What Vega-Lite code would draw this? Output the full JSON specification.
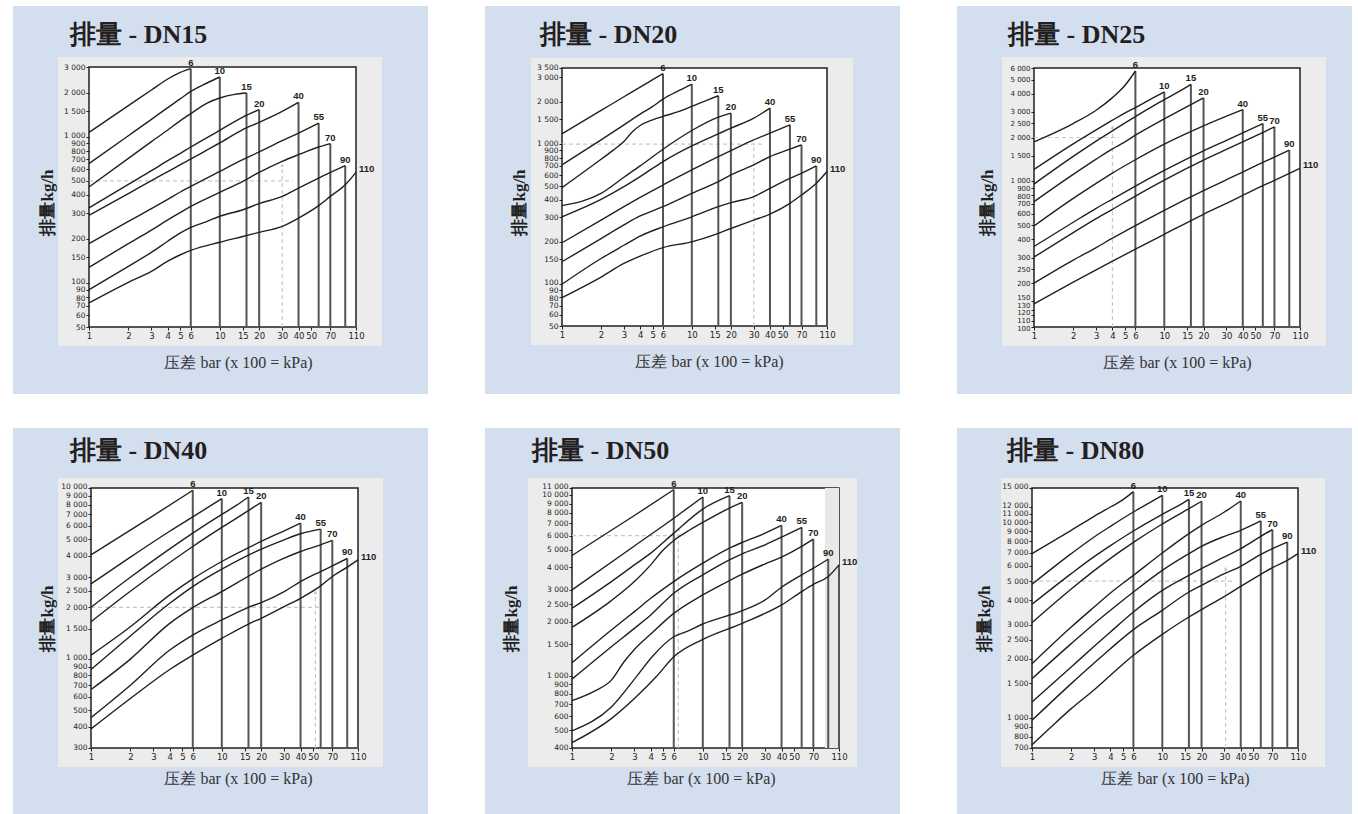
{
"$schema":"https://vega.github.io/schema/vega-lite/v6.json",
"background":"#ffffff",
"padding":{"left":13,"top":6,"right":0,"bottom":0},
"columns":3,
"spacing":{"row":34,"column":57},
"config":{
 "view":{"stroke":null},
 "title":{"font":"Liberation Serif","fontSize":26,"fontWeight":"bold","color":"#231f20"},
 "axis":{"zindex":1,"domain":false,"grid":false,"tickSize":3,"tickColor":"#231f20","tickWidth":1,"labelFont":"DejaVu Sans","labelFontSize":8,"labelColor":"#231f20","labelPadding":1,"labelOverlap":false,"labelFlush":false,"labelBound":false,"titleAlign":"center","titleBaseline":"middle"}
},
"datasets":{
"g":[
{"p":"DN15","x":1,"x2":36,"y":500,"y2":500},{"p":"DN15","x":30,"x2":30,"y":50,"y2":640},
{"p":"DN20","x":1,"x2":35,"y":1000,"y2":1000},{"p":"DN20","x":30,"x2":30,"y":50,"y2":1000},
{"p":"DN25","x":1,"x2":4.5,"y":2000,"y2":2000},{"p":"DN25","x":4,"x2":4,"y":100,"y2":2360},
{"p":"DN40","x":1,"x2":58,"y":2000,"y2":2000},{"p":"DN40","x":52,"x2":52,"y":300,"y2":2450},
{"p":"DN50","x":1,"x2":7.3,"y":6000,"y2":6000},{"p":"DN50","x":6.5,"x2":6.5,"y":400,"y2":6500},
{"p":"DN80","x":1,"x2":35,"y":5000,"y2":5000},{"p":"DN80","x":30.6,"x2":30.6,"y":700,"y2":5800}
],
"c":[
{"p":"DN15","s":"6","x":1,"y":1072},{"p":"DN15","s":"6","x":2,"y":1632},{"p":"DN15","s":"6","x":3,"y":2088},{"p":"DN15","s":"6","x":4,"y":2483},{"p":"DN15","s":"6","x":5,"y":2758},{"p":"DN15","s":"6","x":6,"y":2922},
{"p":"DN15","s":"10","x":1,"y":655},{"p":"DN15","s":"10","x":2,"y":1017},{"p":"DN15","s":"10","x":3,"y":1316},{"p":"DN15","s":"10","x":4,"y":1581},{"p":"DN15","s":"10","x":5,"y":1822},{"p":"DN15","s":"10","x":6,"y":2045},{"p":"DN15","s":"10","x":8,"y":2332},{"p":"DN15","s":"10","x":10,"y":2563},
{"p":"DN15","s":"15","x":1,"y":453},{"p":"DN15","s":"15","x":2,"y":712},{"p":"DN15","s":"15","x":3,"y":926},{"p":"DN15","s":"15","x":4,"y":1112},{"p":"DN15","s":"15","x":5,"y":1289},{"p":"DN15","s":"15","x":6,"y":1439},{"p":"DN15","s":"15","x":8,"y":1700},{"p":"DN15","s":"15","x":10,"y":1841},{"p":"DN15","s":"15","x":13,"y":1950},{"p":"DN15","s":"15","x":16,"y":1992},
{"p":"DN15","s":"20","x":1,"y":326},{"p":"DN15","s":"20","x":2,"y":473},{"p":"DN15","s":"20","x":3,"y":586},{"p":"DN15","s":"20","x":4,"y":686},{"p":"DN15","s":"20","x":5,"y":770},{"p":"DN15","s":"20","x":6,"y":851},{"p":"DN15","s":"20","x":10,"y":1107},{"p":"DN15","s":"20","x":15,"y":1365},{"p":"DN15","s":"20","x":20,"y":1532},
{"p":"DN15","s":"40","x":1,"y":290},{"p":"DN15","s":"40","x":2,"y":408},{"p":"DN15","s":"40","x":3,"y":501},{"p":"DN15","s":"40","x":4,"y":577},{"p":"DN15","s":"40","x":5,"y":644},{"p":"DN15","s":"40","x":6,"y":705},{"p":"DN15","s":"40","x":10,"y":907},{"p":"DN15","s":"40","x":15,"y":1118},{"p":"DN15","s":"40","x":20,"y":1255},{"p":"DN15","s":"40","x":30,"y":1493},{"p":"DN15","s":"40","x":40,"y":1720},
{"p":"DN15","s":"55","x":1,"y":186},{"p":"DN15","s":"55","x":2,"y":264},{"p":"DN15","s":"55","x":3,"y":322},{"p":"DN15","s":"55","x":4,"y":373},{"p":"DN15","s":"55","x":5,"y":419},{"p":"DN15","s":"55","x":6,"y":458},{"p":"DN15","s":"55","x":10,"y":580},{"p":"DN15","s":"55","x":15,"y":697},{"p":"DN15","s":"55","x":20,"y":787},{"p":"DN15","s":"55","x":30,"y":940},{"p":"DN15","s":"55","x":40,"y":1061},{"p":"DN15","s":"55","x":57,"y":1242},
{"p":"DN15","s":"70","x":1,"y":128},{"p":"DN15","s":"70","x":2,"y":186},{"p":"DN15","s":"70","x":3,"y":230},{"p":"DN15","s":"70","x":4,"y":270},{"p":"DN15","s":"70","x":5,"y":304},{"p":"DN15","s":"70","x":6,"y":334},{"p":"DN15","s":"70","x":10,"y":417},{"p":"DN15","s":"70","x":15,"y":496},{"p":"DN15","s":"70","x":20,"y":571},{"p":"DN15","s":"70","x":30,"y":679},{"p":"DN15","s":"70","x":40,"y":754},{"p":"DN15","s":"70","x":57,"y":851},{"p":"DN15","s":"70","x":70,"y":897},
{"p":"DN15","s":"90","x":1,"y":90},{"p":"DN15","s":"90","x":2,"y":130},{"p":"DN15","s":"90","x":3,"y":162},{"p":"DN15","s":"90","x":4,"y":193},{"p":"DN15","s":"90","x":5,"y":220},{"p":"DN15","s":"90","x":6,"y":240},{"p":"DN15","s":"90","x":8,"y":264},{"p":"DN15","s":"90","x":10,"y":286},{"p":"DN15","s":"90","x":15,"y":317},{"p":"DN15","s":"90","x":20,"y":349},{"p":"DN15","s":"90","x":30,"y":391},{"p":"DN15","s":"90","x":40,"y":446},{"p":"DN15","s":"90","x":57,"y":522},{"p":"DN15","s":"90","x":91,"y":634},
{"p":"DN15","s":"110","x":1,"y":73},{"p":"DN15","s":"110","x":2,"y":101},{"p":"DN15","s":"110","x":3,"y":120},{"p":"DN15","s":"110","x":4,"y":141},{"p":"DN15","s":"110","x":5,"y":156},{"p":"DN15","s":"110","x":6,"y":167},{"p":"DN15","s":"110","x":10,"y":190},{"p":"DN15","s":"110","x":15,"y":208},{"p":"DN15","s":"110","x":20,"y":222},{"p":"DN15","s":"110","x":30,"y":244},{"p":"DN15","s":"110","x":40,"y":278},{"p":"DN15","s":"110","x":57,"y":338},{"p":"DN15","s":"110","x":70,"y":391},{"p":"DN15","s":"110","x":91,"y":470},{"p":"DN15","s":"110","x":110,"y":571},

{"p":"DN20","s":"6","x":1,"y":1184},{"p":"DN20","s":"6","x":2,"y":1740},{"p":"DN20","s":"6","x":3,"y":2181},{"p":"DN20","s":"6","x":4,"y":2558},{"p":"DN20","s":"6","x":5,"y":2886},{"p":"DN20","s":"6","x":6,"y":3187},
{"p":"DN20","s":"10","x":1,"y":710},{"p":"DN20","s":"10","x":2,"y":1072},{"p":"DN20","s":"10","x":3,"y":1373},{"p":"DN20","s":"10","x":4,"y":1638},{"p":"DN20","s":"10","x":5,"y":1859},{"p":"DN20","s":"10","x":6,"y":2098},{"p":"DN20","s":"10","x":8,"y":2421},{"p":"DN20","s":"10","x":10,"y":2688},
{"p":"DN20","s":"15","x":1,"y":488},{"p":"DN20","s":"15","x":2,"y":779},{"p":"DN20","s":"15","x":2.5,"y":909},{"p":"DN20","s":"15","x":3,"y":1043},{"p":"DN20","s":"15","x":3.5,"y":1230},{"p":"DN20","s":"15","x":4,"y":1358},{"p":"DN20","s":"15","x":5,"y":1491},{"p":"DN20","s":"15","x":6,"y":1576},{"p":"DN20","s":"15","x":8,"y":1712},{"p":"DN20","s":"15","x":10,"y":1859},{"p":"DN20","s":"15","x":13,"y":2053},{"p":"DN20","s":"15","x":16,"y":2217},
{"p":"DN20","s":"20","x":1,"y":363},{"p":"DN20","s":"20","x":2,"y":444},{"p":"DN20","s":"20","x":3,"y":579},{"p":"DN20","s":"20","x":4,"y":698},{"p":"DN20","s":"20","x":6,"y":919},{"p":"DN20","s":"20","x":10,"y":1251},{"p":"DN20","s":"20","x":16,"y":1559},{"p":"DN20","s":"20","x":20,"y":1665},
{"p":"DN20","s":"40","x":1,"y":302},{"p":"DN20","s":"40","x":2,"y":402},{"p":"DN20","s":"40","x":3,"y":496},{"p":"DN20","s":"40","x":4,"y":585},{"p":"DN20","s":"40","x":6,"y":750},{"p":"DN20","s":"40","x":10,"y":971},{"p":"DN20","s":"40","x":16,"y":1184},{"p":"DN20","s":"40","x":20,"y":1300},{"p":"DN20","s":"40","x":30,"y":1533},{"p":"DN20","s":"40","x":40,"y":1808},
{"p":"DN20","s":"55","x":1,"y":197},{"p":"DN20","s":"55","x":2,"y":286},{"p":"DN20","s":"55","x":3,"y":357},{"p":"DN20","s":"55","x":4,"y":416},{"p":"DN20","s":"55","x":6,"y":510},{"p":"DN20","s":"55","x":10,"y":653},{"p":"DN20","s":"55","x":16,"y":814},{"p":"DN20","s":"55","x":20,"y":899},{"p":"DN20","s":"55","x":30,"y":1072},{"p":"DN20","s":"55","x":40,"y":1197},{"p":"DN20","s":"55","x":57,"y":1373},
{"p":"DN20","s":"70","x":1,"y":144},{"p":"DN20","s":"70","x":2,"y":211},{"p":"DN20","s":"70","x":3,"y":264},{"p":"DN20","s":"70","x":4,"y":306},{"p":"DN20","s":"70","x":6,"y":357},{"p":"DN20","s":"70","x":10,"y":444},{"p":"DN20","s":"70","x":16,"y":539},{"p":"DN20","s":"70","x":20,"y":602},{"p":"DN20","s":"70","x":30,"y":710},{"p":"DN20","s":"70","x":40,"y":814},{"p":"DN20","s":"70","x":57,"y":919},{"p":"DN20","s":"70","x":70,"y":987},
{"p":"DN20","s":"90","x":1,"y":99.5},{"p":"DN20","s":"90","x":2,"y":152},{"p":"DN20","s":"90","x":3,"y":189},{"p":"DN20","s":"90","x":4,"y":220},{"p":"DN20","s":"90","x":6,"y":256},{"p":"DN20","s":"90","x":10,"y":302},{"p":"DN20","s":"90","x":16,"y":357},{"p":"DN20","s":"90","x":20,"y":381},{"p":"DN20","s":"90","x":30,"y":421},{"p":"DN20","s":"90","x":40,"y":483},{"p":"DN20","s":"90","x":57,"y":569},{"p":"DN20","s":"90","x":70,"y":618},{"p":"DN20","s":"90","x":91,"y":698},
{"p":"DN20","s":"110","x":1,"y":79.8},{"p":"DN20","s":"110","x":2,"y":112},{"p":"DN20","s":"110","x":3,"y":140},{"p":"DN20","s":"110","x":4,"y":158},{"p":"DN20","s":"110","x":6,"y":182},{"p":"DN20","s":"110","x":10,"y":200},{"p":"DN20","s":"110","x":16,"y":230},{"p":"DN20","s":"110","x":20,"y":249},{"p":"DN20","s":"110","x":30,"y":286},{"p":"DN20","s":"110","x":40,"y":316},{"p":"DN20","s":"110","x":57,"y":377},{"p":"DN20","s":"110","x":70,"y":432},{"p":"DN20","s":"110","x":91,"y":524},{"p":"DN20","s":"110","x":110,"y":636},

{"p":"DN25","s":"6","x":1,"y":1868},{"p":"DN25","s":"6","x":2,"y":2495},{"p":"DN25","s":"6","x":3,"y":3078},{"p":"DN25","s":"6","x":4,"y":3758},{"p":"DN25","s":"6","x":5,"y":4565},{"p":"DN25","s":"6","x":6,"y":5723},
{"p":"DN25","s":"10","x":1,"y":1208},{"p":"DN25","s":"10","x":2,"y":1810},{"p":"DN25","s":"10","x":3,"y":2257},{"p":"DN25","s":"10","x":4,"y":2629},{"p":"DN25","s":"10","x":5,"y":2951},{"p":"DN25","s":"10","x":6,"y":3211},{"p":"DN25","s":"10","x":8,"y":3700},{"p":"DN25","s":"10","x":10,"y":4110},
{"p":"DN25","s":"15","x":1,"y":958},{"p":"DN25","s":"15","x":2,"y":1483},{"p":"DN25","s":"15","x":3,"y":1888},{"p":"DN25","s":"15","x":4,"y":2222},{"p":"DN25","s":"15","x":5,"y":2520},{"p":"DN25","s":"15","x":6,"y":2786},{"p":"DN25","s":"15","x":8,"y":3245},{"p":"DN25","s":"15","x":10,"y":3641},{"p":"DN25","s":"15","x":13,"y":4143},{"p":"DN25","s":"15","x":16,"y":4638},
{"p":"DN25","s":"20","x":1,"y":725},{"p":"DN25","s":"20","x":2,"y":1116},{"p":"DN25","s":"20","x":3,"y":1421},{"p":"DN25","s":"20","x":4,"y":1673},{"p":"DN25","s":"20","x":5,"y":1868},{"p":"DN25","s":"20","x":6,"y":2075},{"p":"DN25","s":"20","x":10,"y":2685},{"p":"DN25","s":"20","x":16,"y":3366},{"p":"DN25","s":"20","x":20,"y":3739},
{"p":"DN25","s":"40","x":1,"y":494},{"p":"DN25","s":"40","x":2,"y":764},{"p":"DN25","s":"40","x":3,"y":969},{"p":"DN25","s":"40","x":4,"y":1140},{"p":"DN25","s":"40","x":6,"y":1407},{"p":"DN25","s":"40","x":10,"y":1801},{"p":"DN25","s":"40","x":20,"y":2404},{"p":"DN25","s":"40","x":30,"y":2801},{"p":"DN25","s":"40","x":40,"y":3111},
{"p":"DN25","s":"55","x":1,"y":357},{"p":"DN25","s":"55","x":2,"y":524},{"p":"DN25","s":"55","x":3,"y":653},{"p":"DN25","s":"55","x":4,"y":756},{"p":"DN25","s":"55","x":6,"y":928},{"p":"DN25","s":"55","x":10,"y":1189},{"p":"DN25","s":"55","x":20,"y":1621},{"p":"DN25","s":"55","x":30,"y":1908},{"p":"DN25","s":"55","x":40,"y":2153},{"p":"DN25","s":"55","x":57,"y":2495},
{"p":"DN25","s":"70","x":1,"y":302},{"p":"DN25","s":"70","x":2,"y":445},{"p":"DN25","s":"70","x":3,"y":555},{"p":"DN25","s":"70","x":4,"y":643},{"p":"DN25","s":"70","x":6,"y":793},{"p":"DN25","s":"70","x":10,"y":1021},{"p":"DN25","s":"70","x":20,"y":1399},{"p":"DN25","s":"70","x":30,"y":1655},{"p":"DN25","s":"70","x":40,"y":1868},{"p":"DN25","s":"70","x":57,"y":2164},{"p":"DN25","s":"70","x":70,"y":2366},
{"p":"DN25","s":"90","x":1,"y":200},{"p":"DN25","s":"90","x":2,"y":288},{"p":"DN25","s":"90","x":3,"y":351},{"p":"DN25","s":"90","x":4,"y":407},{"p":"DN25","s":"90","x":6,"y":497},{"p":"DN25","s":"90","x":10,"y":633},{"p":"DN25","s":"90","x":20,"y":863},{"p":"DN25","s":"90","x":30,"y":1026},{"p":"DN25","s":"90","x":40,"y":1158},{"p":"DN25","s":"90","x":57,"y":1349},{"p":"DN25","s":"90","x":70,"y":1467},{"p":"DN25","s":"90","x":91,"y":1639},
{"p":"DN25","s":"110","x":1,"y":144},{"p":"DN25","s":"110","x":2,"y":203},{"p":"DN25","s":"110","x":3,"y":247},{"p":"DN25","s":"110","x":4,"y":283},{"p":"DN25","s":"110","x":6,"y":342},{"p":"DN25","s":"110","x":10,"y":433},{"p":"DN25","s":"110","x":20,"y":594},{"p":"DN25","s":"110","x":30,"y":707},{"p":"DN25","s":"110","x":40,"y":801},{"p":"DN25","s":"110","x":57,"y":933},{"p":"DN25","s":"110","x":70,"y":1015},{"p":"DN25","s":"110","x":91,"y":1134},{"p":"DN25","s":"110","x":110,"y":1227},

{"p":"DN40","s":"6","x":1,"y":4060},{"p":"DN40","s":"6","x":3,"y":6894},{"p":"DN40","s":"6","x":6,"y":9690},
{"p":"DN40","s":"10","x":1,"y":2743},{"p":"DN40","s":"10","x":2,"y":3934},{"p":"DN40","s":"10","x":4,"y":5579},{"p":"DN40","s":"10","x":6,"y":6773},{"p":"DN40","s":"10","x":10,"y":8658},
{"p":"DN40","s":"15","x":1,"y":2001},{"p":"DN40","s":"15","x":2,"y":3001},{"p":"DN40","s":"15","x":4,"y":4402},{"p":"DN40","s":"15","x":6,"y":5442},{"p":"DN40","s":"15","x":10,"y":7004},{"p":"DN40","s":"15","x":13,"y":7928},{"p":"DN40","s":"15","x":16,"y":8854},
{"p":"DN40","s":"20","x":1,"y":1648},{"p":"DN40","s":"20","x":2,"y":2484},{"p":"DN40","s":"20","x":4,"y":3660},{"p":"DN40","s":"20","x":6,"y":4544},{"p":"DN40","s":"20","x":10,"y":5875},{"p":"DN40","s":"20","x":16,"y":7374},{"p":"DN40","s":"20","x":20,"y":8240},
{"p":"DN40","s":"40","x":1,"y":1050},{"p":"DN40","s":"40","x":2,"y":1540},{"p":"DN40","s":"40","x":4,"y":2364},{"p":"DN40","s":"40","x":6,"y":2935},{"p":"DN40","s":"40","x":10,"y":3710},{"p":"DN40","s":"40","x":20,"y":4862},{"p":"DN40","s":"40","x":30,"y":5616},{"p":"DN40","s":"40","x":40,"y":6230},
{"p":"DN40","s":"55","x":1,"y":865},{"p":"DN40","s":"55","x":2,"y":1358},{"p":"DN40","s":"55","x":4,"y":2112},{"p":"DN40","s":"55","x":6,"y":2646},{"p":"DN40","s":"55","x":10,"y":3344},{"p":"DN40","s":"55","x":20,"y":4383},{"p":"DN40","s":"55","x":30,"y":4973},{"p":"DN40","s":"55","x":40,"y":5394},{"p":"DN40","s":"55","x":57,"y":5743},
{"p":"DN40","s":"70","x":1,"y":660},{"p":"DN40","s":"70","x":2,"y":995},{"p":"DN40","s":"70","x":4,"y":1612},{"p":"DN40","s":"70","x":6,"y":1992},{"p":"DN40","s":"70","x":10,"y":2474},{"p":"DN40","s":"70","x":20,"y":3344},{"p":"DN40","s":"70","x":30,"y":3881},{"p":"DN40","s":"70","x":40,"y":4247},{"p":"DN40","s":"70","x":57,"y":4648},{"p":"DN40","s":"70","x":70,"y":4929},
{"p":"DN40","s":"90","x":1,"y":452},{"p":"DN40","s":"90","x":2,"y":700},{"p":"DN40","s":"90","x":4,"y":1124},{"p":"DN40","s":"90","x":6,"y":1376},{"p":"DN40","s":"90","x":10,"y":1686},{"p":"DN40","s":"90","x":16,"y":2001},{"p":"DN40","s":"90","x":20,"y":2131},{"p":"DN40","s":"90","x":30,"y":2474},{"p":"DN40","s":"90","x":40,"y":2831},{"p":"DN40","s":"90","x":57,"y":3240},{"p":"DN40","s":"90","x":70,"y":3499},{"p":"DN40","s":"90","x":91,"y":3864},
{"p":"DN40","s":"110","x":1,"y":388},{"p":"DN40","s":"110","x":2,"y":585},{"p":"DN40","s":"110","x":4,"y":865},{"p":"DN40","s":"110","x":6,"y":1050},{"p":"DN40","s":"110","x":10,"y":1316},{"p":"DN40","s":"110","x":16,"y":1597},{"p":"DN40","s":"110","x":20,"y":1725},{"p":"DN40","s":"110","x":30,"y":2019},{"p":"DN40","s":"110","x":40,"y":2259},{"p":"DN40","s":"110","x":57,"y":2670},{"p":"DN40","s":"110","x":70,"y":3029},{"p":"DN40","s":"110","x":91,"y":3437},{"p":"DN40","s":"110","x":110,"y":3794},

{"p":"DN50","s":"6","x":1,"y":4653},{"p":"DN50","s":"6","x":3,"y":7745},{"p":"DN50","s":"6","x":6,"y":10770},
{"p":"DN50","s":"10","x":1,"y":3000},{"p":"DN50","s":"10","x":3,"y":5253},{"p":"DN50","s":"10","x":6,"y":7484},{"p":"DN50","s":"10","x":10,"y":9804},
{"p":"DN50","s":"15","x":1,"y":2373},{"p":"DN50","s":"15","x":2,"y":3337},{"p":"DN50","s":"15","x":3,"y":4129},{"p":"DN50","s":"15","x":4,"y":4793},{"p":"DN50","s":"15","x":6,"y":6187},{"p":"DN50","s":"15","x":10,"y":8410},{"p":"DN50","s":"15","x":16,"y":9972},
{"p":"DN50","s":"20","x":1,"y":1862},{"p":"DN50","s":"20","x":2,"y":2618},{"p":"DN50","s":"20","x":3,"y":3337},{"p":"DN50","s":"20","x":4,"y":4129},{"p":"DN50","s":"20","x":5,"y":5001},{"p":"DN50","s":"20","x":6,"y":5636},{"p":"DN50","s":"20","x":8,"y":6458},{"p":"DN50","s":"20","x":10,"y":7092},{"p":"DN50","s":"20","x":16,"y":8518},{"p":"DN50","s":"20","x":20,"y":9158},
{"p":"DN50","s":"40","x":1,"y":1185},{"p":"DN50","s":"40","x":2,"y":1799},{"p":"DN50","s":"40","x":3,"y":2275},{"p":"DN50","s":"40","x":4,"y":2697},{"p":"DN50","s":"40","x":6,"y":3337},{"p":"DN50","s":"40","x":10,"y":4218},{"p":"DN50","s":"40","x":16,"y":5110},{"p":"DN50","s":"40","x":20,"y":5494},{"p":"DN50","s":"40","x":30,"y":6187},{"p":"DN50","s":"40","x":40,"y":6825},
{"p":"DN50","s":"55","x":1,"y":962},{"p":"DN50","s":"55","x":2,"y":1454},{"p":"DN50","s":"55","x":3,"y":1838},{"p":"DN50","s":"55","x":4,"y":2180},{"p":"DN50","s":"55","x":6,"y":2875},{"p":"DN50","s":"55","x":10,"y":3634},{"p":"DN50","s":"55","x":16,"y":4400},{"p":"DN50","s":"55","x":20,"y":4753},{"p":"DN50","s":"55","x":30,"y":5333},{"p":"DN50","s":"55","x":40,"y":5881},{"p":"DN50","s":"55","x":57,"y":6655},
{"p":"DN50","s":"70","x":1,"y":732},{"p":"DN50","s":"70","x":1.5,"y":829},{"p":"DN50","s":"70","x":2,"y":950},{"p":"DN50","s":"70","x":2.5,"y":1201},{"p":"DN50","s":"70","x":3,"y":1405},{"p":"DN50","s":"70","x":4,"y":1710},{"p":"DN50","s":"70","x":6,"y":2226},{"p":"DN50","s":"70","x":10,"y":2815},{"p":"DN50","s":"70","x":16,"y":3380},{"p":"DN50","s":"70","x":20,"y":3665},{"p":"DN50","s":"70","x":30,"y":4182},{"p":"DN50","s":"70","x":40,"y":4554},{"p":"DN50","s":"70","x":57,"y":5220},{"p":"DN50","s":"70","x":70,"y":5732},
{"p":"DN50","s":"90","x":1,"y":497},{"p":"DN50","s":"90","x":2,"y":675},{"p":"DN50","s":"90","x":3.1,"y":991},{"p":"DN50","s":"90","x":4.1,"y":1280},{"p":"DN50","s":"90","x":6,"y":1652},{"p":"DN50","s":"90","x":7.5,"y":1762},{"p":"DN50","s":"90","x":10,"y":1943},{"p":"DN50","s":"90","x":20,"y":2304},{"p":"DN50","s":"90","x":30,"y":2640},{"p":"DN50","s":"90","x":40,"y":3104},{"p":"DN50","s":"90","x":57,"y":3634},{"p":"DN50","s":"90","x":70,"y":3957},{"p":"DN50","s":"90","x":91,"y":4440},
{"p":"DN50","s":"110","x":1,"y":428},{"p":"DN50","s":"110","x":2,"y":582},{"p":"DN50","s":"110","x":3.1,"y":768},{"p":"DN50","s":"110","x":4.4,"y":991},{"p":"DN50","s":"110","x":6,"y":1280},{"p":"DN50","s":"110","x":10,"y":1597},{"p":"DN50","s":"110","x":20,"y":1960},{"p":"DN50","s":"110","x":40,"y":2477},{"p":"DN50","s":"110","x":57,"y":2937},{"p":"DN50","s":"110","x":70,"y":3220},{"p":"DN50","s":"110","x":91,"y":3557},{"p":"DN50","s":"110","x":110,"y":4129},

{"p":"DN80","s":"6","x":1,"y":6917},{"p":"DN80","s":"6","x":2,"y":9107},{"p":"DN80","s":"6","x":3,"y":10743},{"p":"DN80","s":"6","x":4,"y":11989},{"p":"DN80","s":"6","x":5,"y":13075},{"p":"DN80","s":"6","x":6,"y":14365},
{"p":"DN80","s":"10","x":1,"y":4819},{"p":"DN80","s":"10","x":2,"y":6917},{"p":"DN80","s":"10","x":3,"y":8421},{"p":"DN80","s":"10","x":4,"y":9548},{"p":"DN80","s":"10","x":6,"y":11303},{"p":"DN80","s":"10","x":8,"y":12618},{"p":"DN80","s":"10","x":10,"y":13761},
{"p":"DN80","s":"15","x":1,"y":3807},{"p":"DN80","s":"15","x":2,"y":5465},{"p":"DN80","s":"15","x":3,"y":6676},{"p":"DN80","s":"15","x":4,"y":7601},{"p":"DN80","s":"15","x":6,"y":9036},{"p":"DN80","s":"15","x":10,"y":10998},{"p":"DN80","s":"15","x":13,"y":12083},{"p":"DN80","s":"15","x":16,"y":13126},
{"p":"DN80","s":"20","x":1,"y":3067},{"p":"DN80","s":"20","x":2,"y":4562},{"p":"DN80","s":"20","x":3,"y":5662},{"p":"DN80","s":"20","x":4,"y":6546},{"p":"DN80","s":"20","x":6,"y":7907},{"p":"DN80","s":"20","x":10,"y":9813},{"p":"DN80","s":"20","x":16,"y":11756},{"p":"DN80","s":"20","x":20,"y":12819},
{"p":"DN80","s":"40","x":1,"y":1891},{"p":"DN80","s":"40","x":2,"y":2914},{"p":"DN80","s":"40","x":3,"y":3689},{"p":"DN80","s":"40","x":4,"y":4351},{"p":"DN80","s":"40","x":6,"y":5358},{"p":"DN80","s":"40","x":10,"y":6972},{"p":"DN80","s":"40","x":16,"y":8755},{"p":"DN80","s":"40","x":20,"y":9661},{"p":"DN80","s":"40","x":30,"y":11303},{"p":"DN80","s":"40","x":40,"y":12870},
{"p":"DN80","s":"55","x":1,"y":1585},{"p":"DN80","s":"55","x":2,"y":2395},{"p":"DN80","s":"55","x":3,"y":3030},{"p":"DN80","s":"55","x":4,"y":3548},{"p":"DN80","s":"55","x":6,"y":4402},{"p":"DN80","s":"55","x":10,"y":5684},{"p":"DN80","s":"55","x":16,"y":6917},{"p":"DN80","s":"55","x":20,"y":7542},{"p":"DN80","s":"55","x":30,"y":8487},{"p":"DN80","s":"55","x":40,"y":9107},{"p":"DN80","s":"55","x":57,"y":10167},
{"p":"DN80","s":"70","x":1,"y":1204},{"p":"DN80","s":"70","x":2,"y":1819},{"p":"DN80","s":"70","x":3,"y":2320},{"p":"DN80","s":"70","x":4,"y":2748},{"p":"DN80","s":"70","x":6,"y":3478},{"p":"DN80","s":"70","x":10,"y":4489},{"p":"DN80","s":"70","x":16,"y":5358},{"p":"DN80","s":"70","x":20,"y":5797},{"p":"DN80","s":"70","x":30,"y":6651},{"p":"DN80","s":"70","x":40,"y":7338},{"p":"DN80","s":"70","x":57,"y":8487},{"p":"DN80","s":"70","x":70,"y":9179},
{"p":"DN80","s":"90","x":1,"y":970},{"p":"DN80","s":"90","x":2,"y":1495},{"p":"DN80","s":"90","x":3,"y":1906},{"p":"DN80","s":"90","x":4,"y":2257},{"p":"DN80","s":"90","x":6,"y":2824},{"p":"DN80","s":"90","x":10,"y":3548},{"p":"DN80","s":"90","x":16,"y":4402},{"p":"DN80","s":"90","x":20,"y":4763},{"p":"DN80","s":"90","x":30,"y":5465},{"p":"DN80","s":"90","x":40,"y":5959},{"p":"DN80","s":"90","x":57,"y":6863},{"p":"DN80","s":"90","x":70,"y":7338},{"p":"DN80","s":"90","x":91,"y":7937},
{"p":"DN80","s":"110","x":1,"y":728},{"p":"DN80","s":"110","x":1.4,"y":897},{"p":"DN80","s":"110","x":2,"y":1113},{"p":"DN80","s":"110","x":3,"y":1392},{"p":"DN80","s":"110","x":4,"y":1649},{"p":"DN80","s":"110","x":6,"y":2087},{"p":"DN80","s":"110","x":10,"y":2673},{"p":"DN80","s":"110","x":16,"y":3279},{"p":"DN80","s":"110","x":20,"y":3575},{"p":"DN80","s":"110","x":30,"y":4183},{"p":"DN80","s":"110","x":40,"y":4707},{"p":"DN80","s":"110","x":57,"y":5422},{"p":"DN80","s":"110","x":70,"y":5867},{"p":"DN80","s":"110","x":91,"y":6393},{"p":"DN80","s":"110","x":110,"y":6917}
]
},
"concat":[
{
 "width":415,"height":388,
 "view":{"fill":"#d3deef","stroke":null},
 "title":{"text":"排量 - DN15","anchor":"start","offset":0,"dx":57,"dy":63,"baseline":"alphabetic"},
 "layer":[
  {"data":{"values":[{}]},"mark":{"type":"rect","fill":"#ececec"},"encoding":{"x":{"datum":0.5794,"type":"quantitative","scale":{"type":"log","domain":[0.2624,390.7],"nice":false}},"x2":{"datum":173.9},"y":{"datum":3512,"type":"quantitative","scale":{"type":"log","domain":[17.41,7840],"nice":false}},"y2":{"datum":37.07}}},
  {"data":{"values":[{}]},"mark":{"type":"rect","fill":"#ffffff","stroke":"#231f20","strokeWidth":1.5},"encoding":{
    "x":{"datum":1,"type":"quantitative","scale":{"type":"log","domain":[0.2624,390.7],"nice":false},"axis":{"orient":"bottom","offset":-67,"zindex":2,"values":[1,2,3,4,5,6,10,15,20,30,40,50,70,110],"format":"d","domain":false,"grid":false,"ticks":true,"tickSize":3,"tickColor":"#231f20","labelFont":"DejaVu Sans","labelFontSize":8.5,"labelColor":"#231f20","labelPadding":1,"labelOverlap":false,"labelFlush":false,"labelBound":false,"title":"压差 bar (x 100 = kPa)","titleFont":"Liberation Serif","titleFontSize":16,"titleFontWeight":"normal","titleColor":"#333333","titleX":225,"titleY":35,"titleAlign":"center","titleBaseline":"middle","titleAngle":0}},"x2":{"datum":110},
    "y":{"datum":3000,"type":"quantitative","scale":{"type":"log","domain":[17.41,7840],"nice":false},"axis":{"orient":"left","offset":-76,"zindex":2,"values":[50,60,70,80,90,100,150,200,300,400,500,600,700,800,900,1000,1500,2000,3000],"labelExpr":"replace(format(datum.value, ','), ',', ' ')","labelOffset":{"condition":[{"test":"datum.value == 100 || datum.value == 1000","value":-1},{"test":"datum.value == 80 || datum.value == 800","value":1}],"value":0},"domain":false,"grid":false,"ticks":true,"tickSize":3,"tickColor":"#231f20","labelFont":"DejaVu Sans","labelFontSize":7.5,"labelColor":"#231f20","labelPadding":1,"labelOverlap":false,"labelFlush":false,"labelBound":false,"title":"排量kg/h","titleFont":"Liberation Serif","titleFontSize":17,"titleFontWeight":"bold","titleColor":"#231f20","titleX":-42,"titleY":196,"titleAlign":"center","titleBaseline":"middle","titleAngle":-90}},"y2":{"datum":50}}},
  {"data":{"name":"g"},"transform":[{"filter":"datum.p=='DN15'"}],"mark":{"type":"rule","stroke":"#c8c8c8","strokeWidth":1.2,"strokeDash":[4,3]},"encoding":{"x":{"field":"x","type":"quantitative","scale":{"type":"log","domain":[0.2624,390.7],"nice":false}},"x2":{"field":"x2"},"y":{"field":"y","type":"quantitative","scale":{"type":"log","domain":[17.41,7840],"nice":false}},"y2":{"field":"y2"}}},
  {"data":{"name":"g"},"transform":[{"filter":"datum.p=='DN15' && datum.x==datum.x2"}],"mark":{"type":"point","shape":"triangle-up","filled":true,"size":16,"color":"#c8c8c8","opacity":1},"encoding":{"x":{"field":"x","type":"quantitative","scale":{"type":"log","domain":[0.2624,390.7],"nice":false}},"y":{"field":"y2","type":"quantitative","scale":{"type":"log","domain":[17.41,7840],"nice":false}}}},
  {"data":{"name":"c"},"transform":[{"filter":"datum.p=='DN15'"},{"joinaggregate":[{"op":"max","field":"x","as":"xm"}],"groupby":["s"]},{"filter":"datum.x==datum.xm"}],"mark":{"type":"rule","stroke":"#555555","strokeWidth":2},"encoding":{"x":{"field":"x","type":"quantitative","scale":{"type":"log","domain":[0.2624,390.7],"nice":false}},"y":{"field":"y","type":"quantitative","scale":{"type":"log","domain":[17.41,7840],"nice":false}},"y2":{"datum":50}}},
  {"data":{"name":"c"},"transform":[{"filter":"datum.p=='DN15'"}],"mark":{"type":"line","stroke":"#231f20","strokeWidth":1.4,"interpolate":"monotone"},"encoding":{"x":{"field":"x","type":"quantitative","scale":{"type":"log","domain":[0.2624,390.7],"nice":false}},"y":{"field":"y","type":"quantitative","scale":{"type":"log","domain":[17.41,7840],"nice":false}},"detail":{"field":"s"}}},
  {"data":{"name":"c"},"transform":[{"filter":"datum.p=='DN15'"},{"joinaggregate":[{"op":"max","field":"x","as":"xm"}],"groupby":["s"]},{"filter":"datum.x==datum.xm && datum.s!='110'"}],"mark":{"type":"text","font":"Liberation Sans","fontSize":9.5,"fontWeight":"bold","dy":-6,"color":"#231f20"},"encoding":{"x":{"field":"x","type":"quantitative","scale":{"type":"log","domain":[0.2624,390.7],"nice":false}},"y":{"field":"y","type":"quantitative","scale":{"type":"log","domain":[17.41,7840],"nice":false}},"text":{"field":"s"}}},
  {"data":{"name":"c"},"transform":[{"filter":"datum.p=='DN15'"},{"joinaggregate":[{"op":"max","field":"x","as":"xm"}],"groupby":["s"]},{"filter":"datum.x==datum.xm && datum.s=='110'"}],"mark":{"type":"text","font":"Liberation Sans","fontSize":9.5,"fontWeight":"bold","align":"left","dx":3,"dy":-3,"color":"#231f20"},"encoding":{"x":{"field":"x","type":"quantitative","scale":{"type":"log","domain":[0.2624,390.7],"nice":false}},"y":{"field":"y","type":"quantitative","scale":{"type":"log","domain":[17.41,7840],"nice":false}},"text":{"field":"s"}}}
 ]
},
{
 "width":415,"height":388,
 "view":{"fill":"#d3deef","stroke":null},
 "title":{"text":"排量 - DN20","anchor":"start","offset":0,"dx":55,"dy":63,"baseline":"alphabetic"},
 "layer":[
  {"data":{"values":[{}]},"mark":{"type":"rect","fill":"#ececec"},"encoding":{"x":{"datum":0.577,"type":"quantitative","scale":{"type":"log","domain":[0.2552,401.6],"nice":false}},"x2":{"datum":174.5},"y":{"datum":4127,"type":"quantitative","scale":{"type":"log","domain":[16.32,9716],"nice":false}},"y2":{"datum":36.56}}},
  {"data":{"values":[{}]},"mark":{"type":"rect","fill":"#ffffff","stroke":"#231f20","strokeWidth":1.5},"encoding":{
    "x":{"datum":1,"type":"quantitative","scale":{"type":"log","domain":[0.2552,401.6],"nice":false},"axis":{"orient":"bottom","offset":-68,"zindex":2,"values":[1,2,3,4,5,6,10,15,20,30,40,50,70,110],"format":"d","domain":false,"grid":false,"ticks":true,"tickSize":3,"tickColor":"#231f20","labelFont":"DejaVu Sans","labelFontSize":8.5,"labelColor":"#231f20","labelPadding":1,"labelOverlap":false,"labelFlush":false,"labelBound":false,"title":"压差 bar (x 100 = kPa)","titleFont":"Liberation Serif","titleFontSize":16,"titleFontWeight":"normal","titleColor":"#333333","titleX":224,"titleY":35,"titleAlign":"center","titleBaseline":"middle","titleAngle":0}},"x2":{"datum":110},
    "y":{"datum":3500,"type":"quantitative","scale":{"type":"log","domain":[16.32,9716],"nice":false},"axis":{"orient":"left","offset":-77,"zindex":2,"values":[50,60,70,80,90,100,150,200,300,400,500,600,700,800,900,1000,1500,2000,3000,3500],"labelExpr":"replace(format(datum.value, ','), ',', ' ')","labelOffset":{"condition":[{"test":"datum.value == 100 || datum.value == 1000","value":-1},{"test":"datum.value == 80 || datum.value == 800","value":1},{"test":"datum.value == 3500","value":-1}],"value":0},"domain":false,"grid":false,"ticks":true,"tickSize":3,"tickColor":"#231f20","labelFont":"DejaVu Sans","labelFontSize":7.5,"labelColor":"#231f20","labelPadding":1,"labelOverlap":false,"labelFlush":false,"labelBound":false,"title":"排量kg/h","titleFont":"Liberation Serif","titleFontSize":17,"titleFontWeight":"bold","titleColor":"#231f20","titleX":-43,"titleY":196,"titleAlign":"center","titleBaseline":"middle","titleAngle":-90}},"y2":{"datum":50}}},
  {"data":{"name":"g"},"transform":[{"filter":"datum.p=='DN20'"}],"mark":{"type":"rule","stroke":"#c8c8c8","strokeWidth":1.2,"strokeDash":[4,3]},"encoding":{"x":{"field":"x","type":"quantitative","scale":{"type":"log","domain":[0.2552,401.6],"nice":false}},"x2":{"field":"x2"},"y":{"field":"y","type":"quantitative","scale":{"type":"log","domain":[16.32,9716],"nice":false}},"y2":{"field":"y2"}}},
  {"data":{"name":"c"},"transform":[{"filter":"datum.p=='DN20'"},{"joinaggregate":[{"op":"max","field":"x","as":"xm"}],"groupby":["s"]},{"filter":"datum.x==datum.xm"}],"mark":{"type":"rule","stroke":"#555555","strokeWidth":2},"encoding":{"x":{"field":"x","type":"quantitative","scale":{"type":"log","domain":[0.2552,401.6],"nice":false}},"y":{"field":"y","type":"quantitative","scale":{"type":"log","domain":[16.32,9716],"nice":false}},"y2":{"datum":50}}},
  {"data":{"name":"c"},"transform":[{"filter":"datum.p=='DN20'"}],"mark":{"type":"line","stroke":"#231f20","strokeWidth":1.4,"interpolate":"monotone"},"encoding":{"x":{"field":"x","type":"quantitative","scale":{"type":"log","domain":[0.2552,401.6],"nice":false}},"y":{"field":"y","type":"quantitative","scale":{"type":"log","domain":[16.32,9716],"nice":false}},"detail":{"field":"s"}}},
  {"data":{"name":"c"},"transform":[{"filter":"datum.p=='DN20'"},{"joinaggregate":[{"op":"max","field":"x","as":"xm"}],"groupby":["s"]},{"filter":"datum.x==datum.xm && datum.s!='110'"}],"mark":{"type":"text","font":"Liberation Sans","fontSize":9.5,"fontWeight":"bold","dy":-6,"color":"#231f20"},"encoding":{"x":{"field":"x","type":"quantitative","scale":{"type":"log","domain":[0.2552,401.6],"nice":false}},"y":{"field":"y","type":"quantitative","scale":{"type":"log","domain":[16.32,9716],"nice":false}},"text":{"field":"s"}}},
  {"data":{"name":"c"},"transform":[{"filter":"datum.p=='DN20'"},{"joinaggregate":[{"op":"max","field":"x","as":"xm"}],"groupby":["s"]},{"filter":"datum.x==datum.xm && datum.s=='110'"}],"mark":{"type":"text","font":"Liberation Sans","fontSize":9.5,"fontWeight":"bold","align":"left","dx":3,"dy":-3,"color":"#231f20"},"encoding":{"x":{"field":"x","type":"quantitative","scale":{"type":"log","domain":[0.2552,401.6],"nice":false}},"y":{"field":"y","type":"quantitative","scale":{"type":"log","domain":[16.32,9716],"nice":false}},"text":{"field":"s"}}}
 ]
},
{
 "width":395,"height":388,
 "view":{"fill":"#d3deef","stroke":null},
 "title":{"text":"排量 - DN25","anchor":"start","offset":0,"dx":51,"dy":63,"baseline":"alphabetic"},
 "layer":[
  {"data":{"values":[{}]},"mark":{"type":"rect","fill":"#ececec"},"encoding":{"x":{"datum":0.568,"type":"quantitative","scale":{"type":"log","domain":[0.2565,275.7],"nice":false}},"x2":{"datum":174.1},"y":{"datum":7139,"type":"quantitative","scale":{"type":"log","domain":[34.67,15992],"nice":false}},"y2":{"datum":74.06}}},
  {"data":{"values":[{}]},"mark":{"type":"rect","fill":"#ffffff","stroke":"#231f20","strokeWidth":1.5},"encoding":{
    "x":{"datum":1,"type":"quantitative","scale":{"type":"log","domain":[0.2565,275.7],"nice":false},"axis":{"orient":"bottom","offset":-67,"zindex":2,"values":[1,2,3,4,5,6,10,15,20,30,40,50,70,110],"format":"d","domain":false,"grid":false,"ticks":true,"tickSize":3,"tickColor":"#231f20","labelFont":"DejaVu Sans","labelFontSize":8.5,"labelColor":"#231f20","labelPadding":1,"labelOverlap":false,"labelFlush":false,"labelBound":false,"title":"压差 bar (x 100 = kPa)","titleFont":"Liberation Serif","titleFontSize":16,"titleFontWeight":"normal","titleColor":"#333333","titleX":220,"titleY":35,"titleAlign":"center","titleBaseline":"middle","titleAngle":0}},"x2":{"datum":110},
    "y":{"datum":6000,"type":"quantitative","scale":{"type":"log","domain":[34.67,15992],"nice":false},"axis":{"orient":"left","offset":-77,"zindex":2,"values":[100,110,120,130,150,200,250,300,400,500,600,700,800,900,1000,1500,2000,2500,3000,4000,5000,6000],"labelExpr":"replace(format(datum.value, ','), ',', ' ')","labelOffset":{"condition":[{"test":"datum.value == 100","value":1.5},{"test":"datum.value == 110","value":-0.5},{"test":"datum.value == 120","value":-2.5},{"test":"datum.value == 130","value":-5},{"test":"datum.value == 150","value":-4},{"test":"datum.value == 1000","value":-1},{"test":"datum.value == 800","value":1}],"value":0},"domain":false,"grid":false,"ticks":true,"tickSize":3,"tickColor":"#231f20","labelFont":"DejaVu Sans","labelFontSize":7,"labelColor":"#231f20","labelPadding":1,"labelOverlap":false,"labelFlush":false,"labelBound":false,"title":"排量kg/h","titleFont":"Liberation Serif","titleFontSize":17,"titleFontWeight":"bold","titleColor":"#231f20","titleX":-47,"titleY":196,"titleAlign":"center","titleBaseline":"middle","titleAngle":-90}},"y2":{"datum":100}}},
  {"data":{"name":"g"},"transform":[{"filter":"datum.p=='DN25'"}],"mark":{"type":"rule","stroke":"#c8c8c8","strokeWidth":1.2,"strokeDash":[4,3]},"encoding":{"x":{"field":"x","type":"quantitative","scale":{"type":"log","domain":[0.2565,275.7],"nice":false}},"x2":{"field":"x2"},"y":{"field":"y","type":"quantitative","scale":{"type":"log","domain":[34.67,15992],"nice":false}},"y2":{"field":"y2"}}},
  {"data":{"name":"g"},"transform":[{"filter":"datum.p=='DN25' && datum.x==datum.x2"}],"mark":{"type":"point","shape":"triangle-up","filled":true,"size":16,"color":"#c8c8c8","opacity":1},"encoding":{"x":{"field":"x","type":"quantitative","scale":{"type":"log","domain":[0.2565,275.7],"nice":false}},"y":{"field":"y2","type":"quantitative","scale":{"type":"log","domain":[34.67,15992],"nice":false}}}},
  {"data":{"name":"c"},"transform":[{"filter":"datum.p=='DN25'"},{"joinaggregate":[{"op":"max","field":"x","as":"xm"}],"groupby":["s"]},{"filter":"datum.x==datum.xm"}],"mark":{"type":"rule","stroke":"#555555","strokeWidth":2},"encoding":{"x":{"field":"x","type":"quantitative","scale":{"type":"log","domain":[0.2565,275.7],"nice":false}},"y":{"field":"y","type":"quantitative","scale":{"type":"log","domain":[34.67,15992],"nice":false}},"y2":{"datum":100}}},
  {"data":{"name":"c"},"transform":[{"filter":"datum.p=='DN25'"}],"mark":{"type":"line","stroke":"#231f20","strokeWidth":1.4,"interpolate":"monotone"},"encoding":{"x":{"field":"x","type":"quantitative","scale":{"type":"log","domain":[0.2565,275.7],"nice":false}},"y":{"field":"y","type":"quantitative","scale":{"type":"log","domain":[34.67,15992],"nice":false}},"detail":{"field":"s"}}},
  {"data":{"name":"c"},"transform":[{"filter":"datum.p=='DN25'"},{"joinaggregate":[{"op":"max","field":"x","as":"xm"}],"groupby":["s"]},{"filter":"datum.x==datum.xm && datum.s!='110'"}],"mark":{"type":"text","font":"Liberation Sans","fontSize":9.5,"fontWeight":"bold","dy":-6,"color":"#231f20"},"encoding":{"x":{"field":"x","type":"quantitative","scale":{"type":"log","domain":[0.2565,275.7],"nice":false}},"y":{"field":"y","type":"quantitative","scale":{"type":"log","domain":[34.67,15992],"nice":false}},"text":{"field":"s"}}},
  {"data":{"name":"c"},"transform":[{"filter":"datum.p=='DN25'"},{"joinaggregate":[{"op":"max","field":"x","as":"xm"}],"groupby":["s"]},{"filter":"datum.x==datum.xm && datum.s=='110'"}],"mark":{"type":"text","font":"Liberation Sans","fontSize":9.5,"fontWeight":"bold","align":"left","dx":3,"dy":-3,"color":"#231f20"},"encoding":{"x":{"field":"x","type":"quantitative","scale":{"type":"log","domain":[0.2565,275.7],"nice":false}},"y":{"field":"y","type":"quantitative","scale":{"type":"log","domain":[34.67,15992],"nice":false}},"text":{"field":"s"}}}
 ]
},
{
 "width":415,"height":386,
 "view":{"fill":"#d3deef","stroke":null},
 "title":{"text":"排量 - DN40","anchor":"start","offset":0,"dx":57,"dy":57,"baseline":"alphabetic"},
 "layer":[
  {"data":{"values":[{}]},"mark":{"type":"rect","fill":"#ececec"},"encoding":{"x":{"datum":0.5594,"type":"quantitative","scale":{"type":"log","domain":[0.2533,377.2],"nice":false}},"x2":{"datum":170.8},"y":{"datum":11445,"type":"quantitative","scale":{"type":"log","domain":[123.18,22458],"nice":false}},"y2":{"datum":232.2}}},
  {"data":{"values":[{}]},"mark":{"type":"rect","fill":"#ffffff","stroke":"#231f20","strokeWidth":1.5},"encoding":{
    "x":{"datum":1,"type":"quantitative","scale":{"type":"log","domain":[0.2533,377.2],"nice":false},"axis":{"orient":"bottom","offset":-66,"zindex":2,"values":[1,2,3,4,5,6,10,15,20,30,40,50,70,110],"format":"d","domain":false,"grid":false,"ticks":true,"tickSize":3,"tickColor":"#231f20","labelFont":"DejaVu Sans","labelFontSize":8.5,"labelColor":"#231f20","labelPadding":1,"labelOverlap":false,"labelFlush":false,"labelBound":false,"title":"压差 bar (x 100 = kPa)","titleFont":"Liberation Serif","titleFontSize":16,"titleFontWeight":"normal","titleColor":"#333333","titleX":225,"titleY":30,"titleAlign":"center","titleBaseline":"middle","titleAngle":0}},"x2":{"datum":110},
    "y":{"datum":10000,"type":"quantitative","scale":{"type":"log","domain":[123.18,22458],"nice":false},"axis":{"orient":"left","offset":-78,"zindex":2,"values":[300,400,500,600,700,800,900,1000,1500,2000,2500,3000,4000,5000,6000,7000,8000,9000,10000],"labelExpr":"replace(format(datum.value, ','), ',', ' ')","labelOffset":{"condition":[{"test":"datum.value == 1000 || datum.value == 10000","value":-1}],"value":0},"domain":false,"grid":false,"ticks":true,"tickSize":3,"tickColor":"#231f20","labelFont":"DejaVu Sans","labelFontSize":7.5,"labelColor":"#231f20","labelPadding":1,"labelOverlap":false,"labelFlush":false,"labelBound":false,"title":"排量kg/h","titleFont":"Liberation Serif","titleFontSize":17,"titleFontWeight":"bold","titleColor":"#231f20","titleX":-44,"titleY":190,"titleAlign":"center","titleBaseline":"middle","titleAngle":-90}},"y2":{"datum":300}}},
  {"data":{"name":"g"},"transform":[{"filter":"datum.p=='DN40'"}],"mark":{"type":"rule","stroke":"#c8c8c8","strokeWidth":1.2,"strokeDash":[4,3]},"encoding":{"x":{"field":"x","type":"quantitative","scale":{"type":"log","domain":[0.2533,377.2],"nice":false}},"x2":{"field":"x2"},"y":{"field":"y","type":"quantitative","scale":{"type":"log","domain":[123.18,22458],"nice":false}},"y2":{"field":"y2"}}},
  {"data":{"name":"g"},"transform":[{"filter":"datum.p=='DN40' && datum.x==datum.x2"}],"mark":{"type":"point","shape":"triangle-up","filled":true,"size":16,"color":"#c8c8c8","opacity":1},"encoding":{"x":{"field":"x","type":"quantitative","scale":{"type":"log","domain":[0.2533,377.2],"nice":false}},"y":{"field":"y2","type":"quantitative","scale":{"type":"log","domain":[123.18,22458],"nice":false}}}},
  {"data":{"name":"c"},"transform":[{"filter":"datum.p=='DN40'"},{"joinaggregate":[{"op":"max","field":"x","as":"xm"}],"groupby":["s"]},{"filter":"datum.x==datum.xm"}],"mark":{"type":"rule","stroke":"#555555","strokeWidth":2},"encoding":{"x":{"field":"x","type":"quantitative","scale":{"type":"log","domain":[0.2533,377.2],"nice":false}},"y":{"field":"y","type":"quantitative","scale":{"type":"log","domain":[123.18,22458],"nice":false}},"y2":{"datum":300}}},
  {"data":{"name":"c"},"transform":[{"filter":"datum.p=='DN40'"}],"mark":{"type":"line","stroke":"#231f20","strokeWidth":1.4,"interpolate":"monotone"},"encoding":{"x":{"field":"x","type":"quantitative","scale":{"type":"log","domain":[0.2533,377.2],"nice":false}},"y":{"field":"y","type":"quantitative","scale":{"type":"log","domain":[123.18,22458],"nice":false}},"detail":{"field":"s"}}},
  {"data":{"name":"c"},"transform":[{"filter":"datum.p=='DN40'"},{"joinaggregate":[{"op":"max","field":"x","as":"xm"}],"groupby":["s"]},{"filter":"datum.x==datum.xm && datum.s!='110'"}],"mark":{"type":"text","font":"Liberation Sans","fontSize":9.5,"fontWeight":"bold","dy":-6,"color":"#231f20"},"encoding":{"x":{"field":"x","type":"quantitative","scale":{"type":"log","domain":[0.2533,377.2],"nice":false}},"y":{"field":"y","type":"quantitative","scale":{"type":"log","domain":[123.18,22458],"nice":false}},"text":{"field":"s"}}},
  {"data":{"name":"c"},"transform":[{"filter":"datum.p=='DN40'"},{"joinaggregate":[{"op":"max","field":"x","as":"xm"}],"groupby":["s"]},{"filter":"datum.x==datum.xm && datum.s=='110'"}],"mark":{"type":"text","font":"Liberation Sans","fontSize":9.5,"fontWeight":"bold","align":"left","dx":3,"dy":-3,"color":"#231f20"},"encoding":{"x":{"field":"x","type":"quantitative","scale":{"type":"log","domain":[0.2533,377.2],"nice":false}},"y":{"field":"y","type":"quantitative","scale":{"type":"log","domain":[123.18,22458],"nice":false}},"text":{"field":"s"}}}
 ]
},
{
 "width":415,"height":386,
 "view":{"fill":"#d3deef","stroke":null},
 "title":{"text":"排量 - DN50","anchor":"start","offset":0,"dx":47,"dy":57,"baseline":"alphabetic"},
 "layer":[
  {"data":{"values":[{}]},"mark":{"type":"rect","fill":"#ececec"},"encoding":{"x":{"datum":0.4609,"type":"quantitative","scale":{"type":"log","domain":[0.2162,321.9],"nice":false}},"x2":{"datum":151},"y":{"datum":12499,"type":"quantitative","scale":{"type":"log","domain":[172.45,23633],"nice":false}},"y2":{"datum":314}}},
  {"data":{"values":[{}]},"mark":{"type":"rect","fill":"#ffffff","stroke":"#231f20","strokeWidth":1.5},"encoding":{
    "x":{"datum":1,"type":"quantitative","scale":{"type":"log","domain":[0.2162,321.9],"nice":false},"axis":{"orient":"bottom","offset":-66,"zindex":2,"values":[1,2,3,4,5,6,10,15,20,30,40,50,70,110],"format":"d","domain":false,"grid":false,"ticks":true,"tickSize":3,"tickColor":"#231f20","labelFont":"DejaVu Sans","labelFontSize":8.5,"labelColor":"#231f20","labelPadding":1,"labelOverlap":false,"labelFlush":false,"labelBound":false,"title":"压差 bar (x 100 = kPa)","titleFont":"Liberation Serif","titleFontSize":16,"titleFontWeight":"normal","titleColor":"#333333","titleX":216,"titleY":30,"titleAlign":"center","titleBaseline":"middle","titleAngle":0}},"x2":{"datum":110},
    "y":{"datum":11000,"type":"quantitative","scale":{"type":"log","domain":[172.45,23633],"nice":false},"axis":{"orient":"left","offset":-87,"zindex":2,"values":[400,500,600,700,800,900,1000,1500,2000,2500,3000,4000,5000,6000,7000,8000,9000,10000,11000],"labelExpr":"replace(format(datum.value, ','), ',', ' ')","labelOffset":{"condition":[{"test":"datum.value == 1000 || datum.value == 10000","value":-0.5},{"test":"datum.value == 11000","value":-1.5}],"value":0},"domain":false,"grid":false,"ticks":true,"tickSize":3,"tickColor":"#231f20","labelFont":"DejaVu Sans","labelFontSize":7.5,"labelColor":"#231f20","labelPadding":1,"labelOverlap":false,"labelFlush":false,"labelBound":false,"title":"排量kg/h","titleFont":"Liberation Serif","titleFontSize":17,"titleFontWeight":"bold","titleColor":"#231f20","titleX":-61,"titleY":190,"titleAlign":"center","titleBaseline":"middle","titleAngle":-90}},"y2":{"datum":400}}},
  {"data":{"values":[{}]},"mark":{"type":"rect","fill":"#e8e8e8"},"encoding":{"x":{"datum":86,"type":"quantitative","scale":{"type":"log","domain":[0.2162,321.9],"nice":false}},"x2":{"datum":110},"y":{"datum":11000,"type":"quantitative","scale":{"type":"log","domain":[172.45,23633],"nice":false}},"y2":{"datum":400}}},
  {"data":{"name":"g"},"transform":[{"filter":"datum.p=='DN50'"}],"mark":{"type":"rule","stroke":"#c8c8c8","strokeWidth":1.2,"strokeDash":[4,3]},"encoding":{"x":{"field":"x","type":"quantitative","scale":{"type":"log","domain":[0.2162,321.9],"nice":false}},"x2":{"field":"x2"},"y":{"field":"y","type":"quantitative","scale":{"type":"log","domain":[172.45,23633],"nice":false}},"y2":{"field":"y2"}}},
  {"data":{"name":"g"},"transform":[{"filter":"datum.p=='DN50' && datum.x==datum.x2"}],"mark":{"type":"point","shape":"triangle-up","filled":true,"size":16,"color":"#c8c8c8","opacity":1},"encoding":{"x":{"field":"x","type":"quantitative","scale":{"type":"log","domain":[0.2162,321.9],"nice":false}},"y":{"field":"y2","type":"quantitative","scale":{"type":"log","domain":[172.45,23633],"nice":false}}}},
  {"data":{"name":"c"},"transform":[{"filter":"datum.p=='DN50'"},{"joinaggregate":[{"op":"max","field":"x","as":"xm"}],"groupby":["s"]},{"filter":"datum.x==datum.xm"}],"mark":{"type":"rule","stroke":"#555555","strokeWidth":2},"encoding":{"x":{"field":"x","type":"quantitative","scale":{"type":"log","domain":[0.2162,321.9],"nice":false}},"y":{"field":"y","type":"quantitative","scale":{"type":"log","domain":[172.45,23633],"nice":false}},"y2":{"datum":400}}},
  {"data":{"name":"c"},"transform":[{"filter":"datum.p=='DN50'"}],"mark":{"type":"line","stroke":"#231f20","strokeWidth":1.4,"interpolate":"monotone"},"encoding":{"x":{"field":"x","type":"quantitative","scale":{"type":"log","domain":[0.2162,321.9],"nice":false}},"y":{"field":"y","type":"quantitative","scale":{"type":"log","domain":[172.45,23633],"nice":false}},"detail":{"field":"s"}}},
  {"data":{"name":"c"},"transform":[{"filter":"datum.p=='DN50'"},{"joinaggregate":[{"op":"max","field":"x","as":"xm"}],"groupby":["s"]},{"filter":"datum.x==datum.xm && datum.s!='110'"}],"mark":{"type":"text","font":"Liberation Sans","fontSize":9.5,"fontWeight":"bold","dy":-6,"color":"#231f20"},"encoding":{"x":{"field":"x","type":"quantitative","scale":{"type":"log","domain":[0.2162,321.9],"nice":false}},"y":{"field":"y","type":"quantitative","scale":{"type":"log","domain":[172.45,23633],"nice":false}},"text":{"field":"s"}}},
  {"data":{"name":"c"},"transform":[{"filter":"datum.p=='DN50'"},{"joinaggregate":[{"op":"max","field":"x","as":"xm"}],"groupby":["s"]},{"filter":"datum.x==datum.xm && datum.s=='110'"}],"mark":{"type":"text","font":"Liberation Sans","fontSize":9.5,"fontWeight":"bold","align":"left","dx":3,"dy":-3,"color":"#231f20"},"encoding":{"x":{"field":"x","type":"quantitative","scale":{"type":"log","domain":[0.2162,321.9],"nice":false}},"y":{"field":"y","type":"quantitative","scale":{"type":"log","domain":[172.45,23633],"nice":false}},"text":{"field":"s"}}}
 ]
},
{
 "width":395,"height":386,
 "view":{"fill":"#d3deef","stroke":null},
 "title":{"text":"排量 - DN80","anchor":"start","offset":0,"dx":50,"dy":57,"baseline":"alphabetic"},
 "layer":[
  {"data":{"values":[{}]},"mark":{"type":"rect","fill":"#ececec"},"encoding":{"x":{"datum":0.5782,"type":"quantitative","scale":{"type":"log","domain":[0.2657,285.6],"nice":false}},"x2":{"datum":177.3},"y":{"datum":16877,"type":"quantitative","scale":{"type":"log","domain":[321.5,30423],"nice":false}},"y2":{"datum":559.5}}},
  {"data":{"values":[{}]},"mark":{"type":"rect","fill":"#ffffff","stroke":"#231f20","strokeWidth":1.5},"encoding":{
    "x":{"datum":1,"type":"quantitative","scale":{"type":"log","domain":[0.2657,285.6],"nice":false},"axis":{"orient":"bottom","offset":-66,"zindex":2,"values":[1,2,3,4,5,6,10,15,20,30,40,50,70,110],"format":"d","domain":false,"grid":false,"ticks":true,"tickSize":3,"tickColor":"#231f20","labelFont":"DejaVu Sans","labelFontSize":8.5,"labelColor":"#231f20","labelPadding":1,"labelOverlap":false,"labelFlush":false,"labelBound":false,"title":"压差 bar (x 100 = kPa)","titleFont":"Liberation Serif","titleFontSize":16,"titleFontWeight":"normal","titleColor":"#333333","titleX":218,"titleY":30,"titleAlign":"center","titleBaseline":"middle","titleAngle":0}},"x2":{"datum":110},
    "y":{"datum":15000,"type":"quantitative","scale":{"type":"log","domain":[321.5,30423],"nice":false},"axis":{"orient":"left","offset":-75,"zindex":2,"values":[700,800,900,1000,1500,2000,2500,3000,4000,5000,6000,7000,8000,9000,10000,11000,12000,15000],"labelExpr":"replace(format(datum.value, ','), ',', ' ')","labelOffset":{"condition":[{"test":"datum.value == 10000","value":0.5},{"test":"datum.value == 11000","value":-0.5},{"test":"datum.value == 12000","value":-1.5},{"test":"datum.value == 15000","value":-1}],"value":0},"domain":false,"grid":false,"ticks":true,"tickSize":3,"tickColor":"#231f20","labelFont":"DejaVu Sans","labelFontSize":7.5,"labelColor":"#231f20","labelPadding":1,"labelOverlap":false,"labelFlush":false,"labelBound":false,"title":"排量kg/h","titleFont":"Liberation Serif","titleFontSize":17,"titleFontWeight":"bold","titleColor":"#231f20","titleX":-48,"titleY":190,"titleAlign":"center","titleBaseline":"middle","titleAngle":-90}},"y2":{"datum":700}}},
  {"data":{"name":"g"},"transform":[{"filter":"datum.p=='DN80'"}],"mark":{"type":"rule","stroke":"#c8c8c8","strokeWidth":1.2,"strokeDash":[4,3]},"encoding":{"x":{"field":"x","type":"quantitative","scale":{"type":"log","domain":[0.2657,285.6],"nice":false}},"x2":{"field":"x2"},"y":{"field":"y","type":"quantitative","scale":{"type":"log","domain":[321.5,30423],"nice":false}},"y2":{"field":"y2"}}},
  {"data":{"name":"g"},"transform":[{"filter":"datum.p=='DN80' && datum.x==datum.x2"}],"mark":{"type":"point","shape":"triangle-up","filled":true,"size":16,"color":"#c8c8c8","opacity":1},"encoding":{"x":{"field":"x","type":"quantitative","scale":{"type":"log","domain":[0.2657,285.6],"nice":false}},"y":{"field":"y2","type":"quantitative","scale":{"type":"log","domain":[321.5,30423],"nice":false}}}},
  {"data":{"name":"c"},"transform":[{"filter":"datum.p=='DN80'"},{"joinaggregate":[{"op":"max","field":"x","as":"xm"}],"groupby":["s"]},{"filter":"datum.x==datum.xm"}],"mark":{"type":"rule","stroke":"#555555","strokeWidth":2},"encoding":{"x":{"field":"x","type":"quantitative","scale":{"type":"log","domain":[0.2657,285.6],"nice":false}},"y":{"field":"y","type":"quantitative","scale":{"type":"log","domain":[321.5,30423],"nice":false}},"y2":{"datum":700}}},
  {"data":{"name":"c"},"transform":[{"filter":"datum.p=='DN80'"}],"mark":{"type":"line","stroke":"#231f20","strokeWidth":1.4,"interpolate":"monotone"},"encoding":{"x":{"field":"x","type":"quantitative","scale":{"type":"log","domain":[0.2657,285.6],"nice":false}},"y":{"field":"y","type":"quantitative","scale":{"type":"log","domain":[321.5,30423],"nice":false}},"detail":{"field":"s"}}},
  {"data":{"name":"c"},"transform":[{"filter":"datum.p=='DN80'"},{"joinaggregate":[{"op":"max","field":"x","as":"xm"}],"groupby":["s"]},{"filter":"datum.x==datum.xm && datum.s!='110'"}],"mark":{"type":"text","font":"Liberation Sans","fontSize":9.5,"fontWeight":"bold","dy":-6,"color":"#231f20"},"encoding":{"x":{"field":"x","type":"quantitative","scale":{"type":"log","domain":[0.2657,285.6],"nice":false}},"y":{"field":"y","type":"quantitative","scale":{"type":"log","domain":[321.5,30423],"nice":false}},"text":{"field":"s"}}},
  {"data":{"name":"c"},"transform":[{"filter":"datum.p=='DN80'"},{"joinaggregate":[{"op":"max","field":"x","as":"xm"}],"groupby":["s"]},{"filter":"datum.x==datum.xm && datum.s=='110'"}],"mark":{"type":"text","font":"Liberation Sans","fontSize":9.5,"fontWeight":"bold","align":"left","dx":3,"dy":-3,"color":"#231f20"},"encoding":{"x":{"field":"x","type":"quantitative","scale":{"type":"log","domain":[0.2657,285.6],"nice":false}},"y":{"field":"y","type":"quantitative","scale":{"type":"log","domain":[321.5,30423],"nice":false}},"text":{"field":"s"}}}
 ]
}
]
}
